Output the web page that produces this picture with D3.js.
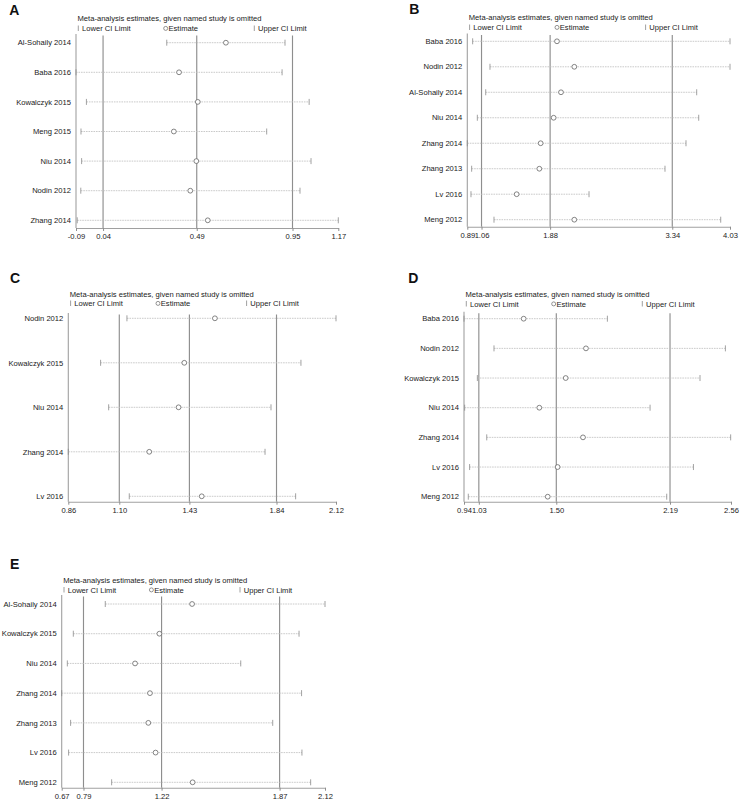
<!DOCTYPE html>
<html>
<head>
<meta charset="utf-8">
<script src="https://cdn.jsdelivr.net/npm/d3@7"></script>
<style>
  html, body { margin: 0; padding: 0; background: #fff; }
  svg { display: block; }
  text { font-family: "Liberation Sans", Arial, sans-serif; fill: #1a1a1a; }
</style>
</head>
<body>
<svg id="chart" width="743" height="803"></svg>
<script>
// ---------------- DATA ----------------
const studiesA = ["Al-Sohaily 2014", "Baba 2016", "Kowalczyk 2015", "Meng 2015", "Niu 2014", "Nodin 2012", "Zhang 2014"];
const estA     = [0.63, 0.405, 0.495, 0.38, 0.488, 0.459, 0.543];
const lowerA   = [0.346, -0.09, -0.04, -0.066, -0.063, -0.067, -0.084];
const upperA   = [0.914, 0.90, 1.03, 0.826, 1.039, 0.986, 1.17];
const ticksA   = [-0.09, 0.04, 0.49, 0.95, 1.17];

const studiesB = ["Baba 2016", "Nodin 2012", "Al-Sohaily 2014", "Niu 2014", "Zhang 2014", "Zhang 2013", "Lv 2016", "Meng 2012"];
const estB     = [1.962, 2.169, 2.01, 1.922, 1.767, 1.751, 1.48, 2.169];
const lowerB   = [0.954, 1.161, 1.11, 1.01, 0.89, 0.942, 0.934, 1.209];
const upperB   = [4.03, 4.03, 3.632, 3.656, 3.504, 3.253, 2.345, 3.919];
const ticksB   = [0.89, 1.06, 1.88, 3.34, 4.03];

const studiesC = ["Nodin 2012", "Kowalczyk 2015", "Niu 2014", "Zhang 2014", "Lv 2016"];
const estC     = [1.55, 1.406, 1.379, 1.241, 1.488];
const lowerC   = [1.136, 1.012, 1.05, 0.86, 1.147];
const upperC   = [2.12, 1.955, 1.814, 1.786, 1.93];
const ticksC   = [0.86, 1.10, 1.43, 1.84, 2.12];

const studiesD = ["Baba 2016", "Nodin 2012", "Kowalczyk 2015", "Niu 2014", "Zhang 2014", "Lv 2016", "Meng 2012"];
const estD     = [1.302, 1.68, 1.557, 1.397, 1.662, 1.508, 1.448];
const lowerD   = [0.94, 1.122, 1.021, 0.944, 1.078, 0.974, 0.966];
const upperD   = [1.81, 2.526, 2.372, 2.069, 2.558, 2.332, 2.17];
const ticksD   = [0.94, 1.03, 1.50, 2.19, 2.56];

const studiesE = ["Al-Sohaily 2014", "Kowalczyk 2015", "Niu 2014", "Zhang 2014", "Zhang 2013", "Lv 2016", "Meng 2012"];
const estE     = [1.388, 1.208, 1.074, 1.156, 1.147, 1.187, 1.391];
const lowerE   = [0.91, 0.734, 0.701, 0.67, 0.719, 0.708, 0.945];
const upperE   = [2.12, 1.977, 1.656, 1.991, 1.832, 1.993, 2.041];
const ticksE   = [0.67, 0.79, 1.22, 1.87, 2.12];

const panelLetters = ["A", "B", "C", "D", "E"];
const titleText = "Meta-analysis estimates, given named study is omitted";
const legendLabels = ["Lower CI Limit", "Estimate", "Upper CI Limit"];

// ---------------- LAYOUT ----------------
const layouts = [
  { x0: 76,    x1: 338.3, top: 34,    axisY: 228,   r0: 42.7,  r1: 220.3, titleY: 20.5,  legY: 31,    lx: 9.3,   ly: 15 },
  { x0: 467.3, x1: 730,   top: 33.5,  axisY: 226.7, r0: 41.3,  r1: 219.7, titleY: 20,    legY: 30,    lx: 409.3, ly: 14.3 },
  { x0: 68.3,  x1: 336,   top: 313,   axisY: 501.7, r0: 318.3, r1: 496.3, titleY: 296.5, legY: 306,   lx: 10,    ly: 283.3 },
  { x0: 464,   x1: 731,   top: 311.7, axisY: 501.7, r0: 318.7, r1: 496.7, titleY: 296.5, legY: 306.5, lx: 408.3, ly: 283.3 },
  { x0: 61.7,  x1: 325,   top: 595,   axisY: 787.7, r0: 604,   r1: 782.3, titleY: 582.5, legY: 592.5, lx: 10,    ly: 569 }
];

const panels = [
  { studies: studiesA, est: estA, lower: lowerA, upper: upperA, ticks: ticksA },
  { studies: studiesB, est: estB, lower: lowerB, upper: upperB, ticks: ticksB },
  { studies: studiesC, est: estC, lower: lowerC, upper: upperC, ticks: ticksC },
  { studies: studiesD, est: estD, lower: lowerD, upper: upperD, ticks: ticksD },
  { studies: studiesE, est: estE, lower: lowerE, upper: upperE, ticks: ticksE }
];

const FS = 7.6;
const lineGray = "#8e8e8e";
const svg = d3.select("#chart");

panels.forEach((p, i) => {
  const L = layouts[i];
  const g = svg.append("g");
  const x = d3.scaleLinear().domain([p.ticks[0], p.ticks[p.ticks.length - 1]]).range([L.x0, L.x1]);
  const y = d3.scalePoint().domain(p.studies).range([L.r0, L.r1]);
  const rows = p.studies.map((s, k) => ({ s, est: p.est[k], lo: p.lower[k], hi: p.upper[k] }));

  // panel letter
  g.append("text").attr("x", L.lx).attr("y", L.ly)
    .attr("font-size", 14).attr("font-weight", "bold").style("fill", "#111").text(panelLetters[i]);

  // title & legend
  g.append("text").attr("x", L.x0 + 1.5).attr("y", L.titleY).attr("font-size", FS).text(titleText);
  const legOff = [1.5, 87.5, 177.5];
  legendLabels.forEach((lab, k) => {
    const lx = L.x0 + legOff[k];
    if (k === 1) {
      g.append("circle").attr("cx", lx + 2.2).attr("cy", L.legY - 2.6).attr("r", 2)
        .attr("fill", "#fff").attr("stroke", "#666").attr("stroke-width", 0.7);
    } else {
      g.append("line").attr("x1", lx + 0.8).attr("x2", lx + 0.8)
        .attr("y1", L.legY - 5.5).attr("y2", L.legY)
        .attr("stroke", "#888").attr("stroke-width", 0.8);
    }
    g.append("text").attr("x", lx + (k === 1 ? 5 : 4.5)).attr("y", L.legY).attr("font-size", FS).text(lab);
  });

  // reference lines at inner ticks
  g.selectAll("line.ref").data(p.ticks.slice(1, -1)).join("line")
    .attr("class", "ref")
    .attr("x1", d => x(d)).attr("x2", d => x(d))
    .attr("y1", L.top + 1.5).attr("y2", L.axisY)
    .attr("stroke", lineGray).attr("stroke-width", 1.15);

  // left axis line
  g.append("line").attr("x1", L.x0).attr("x2", L.x0).attr("y1", L.top).attr("y2", L.axisY)
    .attr("stroke", "#a0a0a0").attr("stroke-width", 1.1);

  // bottom axis
  const ax = g.append("g").attr("transform", `translate(0,${L.axisY})`)
    .call(d3.axisBottom(x).tickValues(p.ticks).tickSize(3).tickSizeOuter(0).tickFormat(d => d.toFixed(2)));
  ax.select(".domain").attr("stroke", "#a0a0a0").attr("stroke-width", 1.1);
  ax.selectAll(".tick line").attr("stroke", lineGray).attr("stroke-width", 1);
  ax.selectAll(".tick text").attr("font-size", FS).attr("font-family", "Liberation Sans, Arial, sans-serif")
    .attr("y", 5.5).style("fill", "#1a1a1a");

  // study labels
  g.selectAll("text.lab").data(rows).join("text")
    .attr("class", "lab")
    .attr("x", L.x0 - 5).attr("y", d => y(d.s) + 2.7)
    .attr("text-anchor", "end").attr("font-size", FS).text(d => d.s);

  // CI dashed lines
  g.selectAll("line.ci").data(rows).join("line")
    .attr("class", "ci")
    .attr("x1", d => x(d.lo)).attr("x2", d => x(d.hi))
    .attr("y1", d => y(d.s)).attr("y2", d => y(d.s))
    .attr("stroke", "#bdbdbd").attr("stroke-width", 0.8).attr("stroke-dasharray", "1.6,0.9");

  // caps
  ["lo", "hi"].forEach(key => {
    g.selectAll("line.cap" + key).data(rows).join("line")
      .attr("class", "cap" + key)
      .attr("x1", d => x(d[key])).attr("x2", d => x(d[key]))
      .attr("y1", d => y(d.s) - 3).attr("y2", d => y(d.s) + 3)
      .attr("stroke", "#8a8a8a").attr("stroke-width", 0.8);
  });

  // estimates
  g.selectAll("circle.est").data(rows).join("circle")
    .attr("class", "est")
    .attr("cx", d => x(d.est)).attr("cy", d => y(d.s)).attr("r", 2.4)
    .attr("fill", "#fff").attr("stroke", "#666").attr("stroke-width", 0.8);
});
</script>
</body>
</html>
